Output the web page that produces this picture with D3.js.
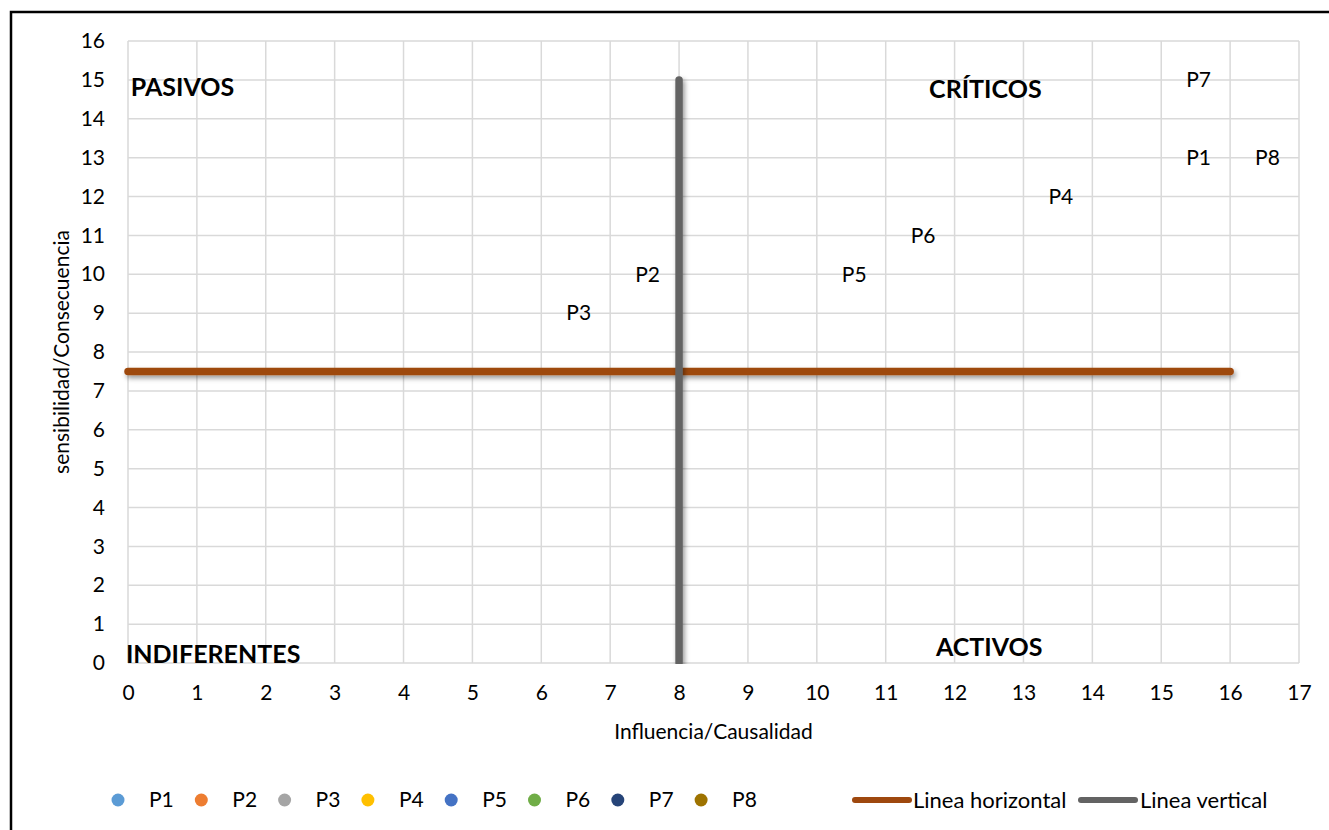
<!DOCTYPE html>
<html>
<head>
<meta charset="utf-8">
<script src="https://cdn.jsdelivr.net/npm/d3@7"></script>
<style>
  html, body { margin: 0; padding: 0; background: #fff; }
  svg { display: block; font-family: Lato, "Open Sans", "DejaVu Sans", sans-serif; }
</style>
</head>
<body>
<svg id="chart" width="1329" height="830"></svg>
<script>
// Matriz de Vester: puntos P1..P8 con influencia (x) y sensibilidad (y)
const pointNames = ["P1", "P2", "P3", "P4", "P5", "P6", "P7", "P8"];
const influencia = [15, 7, 6, 13, 10, 11, 15, 16];
const sensibilidad = [13, 10, 9, 12, 10, 11, 15, 13];
const pointColors = ["#5B9BD5", "#ED7D31", "#A5A5A5", "#FFC000", "#4472C4", "#70AD47", "#264478", "#9E7300"];

// Líneas divisorias de cuadrantes
const lineaHorizontalX = [0, 16];
const lineaHorizontalY = [7.5, 7.5];
const lineaVerticalX = [8, 8];
const lineaVerticalY = [0, 15];

// Rótulos de cuadrantes (posición en unidades de los ejes)
const quadrantNames = ["PASIVOS", "CRÍTICOS", "INDIFERENTES", "ACTIVOS"];
const quadrantX = [0.04, 11.63, -0.03, 11.73];
const quadrantY = [14.8, 14.75, 0.22, 0.4];

const xTicks = d3.range(0, 18);
const yTicks = d3.range(0, 17);

const svg = d3.select("#chart");
const W = 1329, H = 830;
const plot = { left: 128, right: 1299, top: 41, bottom: 663 };
const FS = 21;

const x = d3.scaleLinear().domain([0, 17]).range([plot.left, plot.right]);
const y = d3.scaleLinear().domain([0, 16]).range([plot.bottom, plot.top]);

// Sombra suave para las líneas (región en coordenadas de usuario)
const defs = svg.append("defs");
const f = defs.append("filter").attr("id", "shadow")
  .attr("filterUnits", "userSpaceOnUse")
  .attr("x", 0).attr("y", 0).attr("width", W).attr("height", H);
f.append("feDropShadow").attr("dx", 2).attr("dy", 3).attr("stdDeviation", 2.5)
  .attr("flood-color", "#000").attr("flood-opacity", 0.4);

// Marco exterior
svg.append("rect").attr("x", 11).attr("y", 12).attr("width", W).attr("height", H)
  .attr("fill", "none").attr("stroke", "#000").attr("stroke-width", 2.5);

// Rejilla
const grid = svg.append("g");
grid.selectAll("line.v").data(xTicks).join("line")
  .attr("x1", d => x(d)).attr("x2", d => x(d))
  .attr("y1", plot.top).attr("y2", plot.bottom)
  .attr("stroke", "#D9D9D9").attr("stroke-width", 1.5);
grid.selectAll("line.h").data(yTicks).join("line")
  .attr("y1", d => y(d)).attr("y2", d => y(d))
  .attr("x1", plot.left).attr("x2", plot.right)
  .attr("stroke", "#D9D9D9").attr("stroke-width", 1.5);

// Ejes
const xAxis = svg.append("g").attr("transform", `translate(0,${plot.bottom})`)
  .call(d3.axisBottom(x).tickValues(xTicks).tickSize(0).tickPadding(22).tickFormat(d3.format("d")));
const yAxis = svg.append("g").attr("transform", `translate(${plot.left},0)`)
  .call(d3.axisLeft(y).tickValues(yTicks).tickSize(0).tickPadding(23).tickFormat(d3.format("d")));
[xAxis, yAxis].forEach(a => {
  a.select(".domain").remove();
  a.selectAll("text").attr("font-size", FS).attr("fill", "#000")
    .attr("font-family", "Lato, 'Open Sans', sans-serif");
});

// Títulos de ejes
svg.append("text").attr("x", (plot.left + plot.right) / 2).attr("y", 732)
  .attr("dy", "0.35em").attr("text-anchor", "middle").attr("font-size", FS).text("Influencia/Causalidad");
svg.append("text")
  .attr("transform", `translate(62,${(plot.top + plot.bottom) / 2}) rotate(-90)`)
  .attr("dy", "0.35em").attr("text-anchor", "middle").attr("font-size", FS).text("sensibilidad/Consecuencia");

const lineGen = d3.line().x(d => x(d[0])).y(d => y(d[1]));

// Línea horizontal (y = 7.5)
svg.append("path")
  .datum(d3.zip(lineaHorizontalX, lineaHorizontalY))
  .attr("d", lineGen).attr("fill", "none")
  .attr("stroke", "#9E480E").attr("stroke-width", 7.5).attr("stroke-linecap", "round")
  .attr("filter", "url(#shadow)");

// Línea vertical (x = 8), por encima de la horizontal
svg.append("path")
  .datum(d3.zip(lineaVerticalX, lineaVerticalY))
  .attr("d", lineGen).attr("fill", "none")
  .attr("stroke", "#636363").attr("stroke-width", 7.5).attr("stroke-linecap", "round")
  .attr("filter", "url(#shadow)");

// Recortar la parte inferior de la vertical (termina en el eje)
svg.append("rect").attr("x", x(8) - 12).attr("y", plot.bottom + 1).attr("width", 24).attr("height", 12)
  .attr("fill", "#fff");

// Puntos (sin marcador visible) con sus etiquetas a la derecha
const pts = pointNames.map((n, i) => ({ name: n, x: influencia[i], y: sensibilidad[i] }));
svg.append("g").selectAll("text").data(pts).join("text")
  .attr("x", d => x(d.x) + 25).attr("y", d => y(d.y))
  .attr("dy", "0.35em").attr("font-size", FS).attr("fill", "#000")
  .text(d => d.name);

// Rótulos de cuadrantes
svg.append("g").selectAll("text").data(quadrantNames).join("text")
  .attr("x", (d, i) => x(quadrantX[i]))
  .attr("y", (d, i) => y(quadrantY[i]))
  .attr("dy", "0.35em").attr("font-size", 25).attr("font-weight", "bold").attr("fill", "#000")
  .text(d => d);

// Leyenda
const legY = 800;
const leg = svg.append("g");
pointNames.forEach((n, i) => {
  const cx = 118 + i * 83.3;
  leg.append("circle").attr("cx", cx).attr("cy", legY).attr("r", 6.5).attr("fill", pointColors[i]);
  leg.append("text").attr("x", cx + 31).attr("y", legY).attr("dy", "0.35em")
    .attr("font-size", FS).text(n);
});
const lineItems = [
  { name: "Linea horizontal", color: "#9E480E", x0: 855, x1: 909, tx: 913 },
  { name: "Linea vertical", color: "#636363", x0: 1081, x1: 1135, tx: 1140 }
];
lineItems.forEach(it => {
  leg.append("line").attr("x1", it.x0).attr("x2", it.x1).attr("y1", legY).attr("y2", legY)
    .attr("stroke", it.color).attr("stroke-width", 6).attr("stroke-linecap", "round");
  leg.append("text").attr("x", it.tx).attr("y", legY).attr("dy", "0.35em")
    .attr("font-size", FS + 1).text(it.name);
});
</script>
</body>
</html>
